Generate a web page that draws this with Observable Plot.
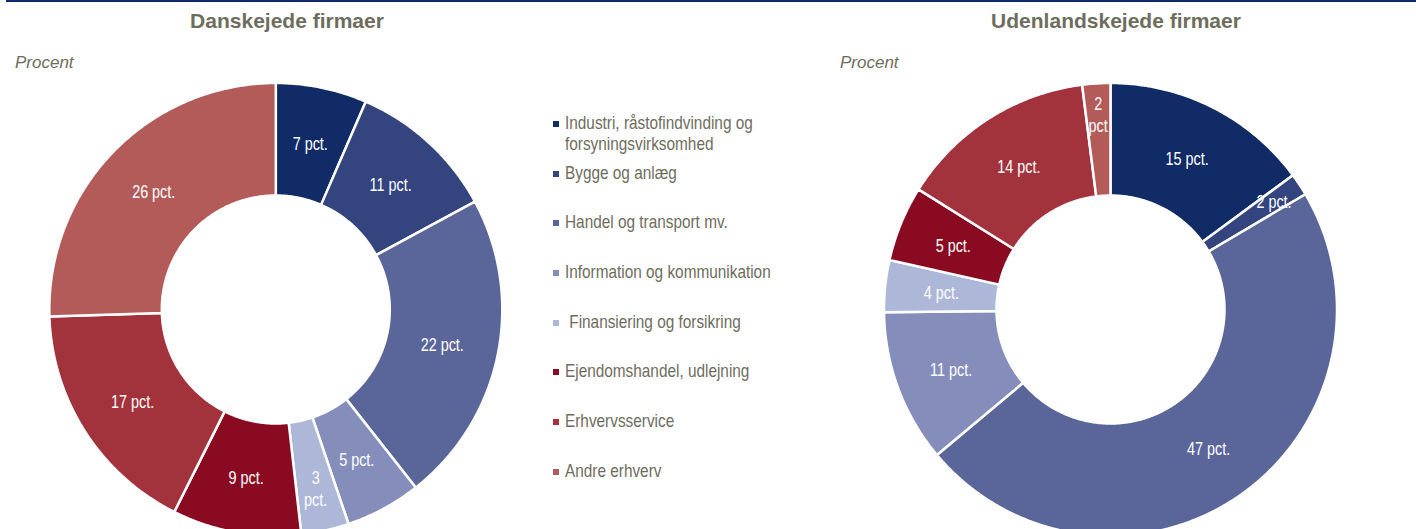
<!DOCTYPE html>
<html>
<head>
<meta charset="utf-8">
<script src="https://cdn.jsdelivr.net/npm/d3@7"></script>
<script src="https://cdn.jsdelivr.net/npm/@observablehq/plot@0.6"></script>
<style>
  html, body { margin: 0; padding: 0; background: #fff; }
  #page { position: relative; width: 1416px; height: 529px; overflow: hidden; font-family: "Liberation Sans", Arial, sans-serif; color: #6e6d5d; }
  .topline { position: absolute; left: 6px; right: 0; top: 0; height: 2px; background: #0e2a6b; }
  .title { position: absolute; top: 9px; font-weight: bold; font-size: 21px; white-space: nowrap; transform: translateX(-50%); }
  .unit { position: absolute; top: 53px; font-style: italic; font-size: 17px; }
  .chart { position: absolute; top: 0; }
  .leg { position: absolute; left: 553px; font-size: 18.5px; line-height: 21px; white-space: pre; }
  .leg .sw { position: absolute; left: 0; top: 9px; width: 6px; height: 6px; }
  .leg .tx { position: absolute; left: 12px; top: 0; transform: scaleX(0.83); transform-origin: 0 0; }
</style>
</head>
<body>
<div id="page">
  <div class="topline"></div>
  <div class="title" style="left:287px">Danskejede firmaer</div>
  <div class="title" style="left:1116px">Udenlandskejede firmaer</div>
  <div class="unit" style="left:15px">Procent</div>
  <div class="unit" style="left:840px">Procent</div>
  <div id="left" class="chart" style="left:0px"></div>
  <div id="right" class="chart" style="left:835px"></div>
  <div id="legend"></div>
</div>
<script>
// ---- data ----
const categories = [
  "Industri, råstofindvinding og\nforsyningsvirksomhed",
  "Bygge og anlæg",
  "Handel og transport mv.",
  "Information og kommunikation",
  " Finansiering og forsikring",
  "Ejendomshandel, udlejning",
  "Erhvervsservice",
  "Andre erhverv"
];
const colors = ["#112b67", "#33447f", "#5a6699", "#858ebb", "#adb7d8", "#8a0b21", "#a2323b", "#b35b59"];
const danishValues = [6.5, 10.6, 22.3, 5.4, 3.4, 9.2, 17.1, 25.5];
const danishLabels = ["7 pct.", "11 pct.", "22 pct.", "5 pct.", "3\npct.", "9 pct.", "17 pct.", "26 pct."];
const foreignValues = [14.9, 1.6, 47.4, 10.9, 3.7, 5.4, 14.1, 2.0];
const foreignLabels = ["15 pct.", "2 pct.", "47 pct.", "11 pct.", "4 pct.", "5 pct.", "14 pct.", "2\npct"];

// ---- geometry helpers ----
const R_OUT = 226.5, R_IN = 114;
function slices(values, labels) {
  const pie = d3.pie().sort(null).value(d => d.v)(values.map((v, i) => ({v, i})));
  const poly = [], lab = [];
  pie.forEach(p => {
    const cat = categories[p.data.i];
    const steps = Math.max(2, Math.ceil((p.endAngle - p.startAngle) / 0.01));
    for (let k = 0; k <= steps; k++) {
      const a = p.startAngle + (p.endAngle - p.startAngle) * k / steps;
      poly.push({cat, x: R_OUT * Math.sin(a), y: R_OUT * Math.cos(a)});
    }
    for (let k = steps; k >= 0; k--) {
      const a = p.startAngle + (p.endAngle - p.startAngle) * k / steps;
      poly.push({cat, x: R_IN * Math.sin(a), y: R_IN * Math.cos(a)});
    }
    const mid = (p.startAngle + p.endAngle) / 2;
    const v = p.data.v;
    const rl = v < 2.5 ? 196 : v < 3.5 ? 183 : 170;
    lab.push({text: labels[p.data.i], x: rl * Math.sin(mid), y: rl * Math.cos(mid)});
  });
  return {poly, lab};
}

function donut(values, labels, xdom, width) {
  const {poly, lab} = slices(values, labels);
  const svg = Plot.plot({
    width, height: 529,
    margin: 0,
    x: {domain: xdom, axis: null},
    y: {domain: [-220, 309], axis: null},
    color: {domain: categories, range: colors},
    style: {background: "transparent", overflow: "visible"},
    marks: [
      Plot.line(poly, {x: "x", y: "y", z: "cat", fill: "cat", stroke: "white", strokeWidth: 2.5, curve: "linear-closed"}),
      Plot.text(lab, {x: "x", y: "y", text: "text", fill: "white", fontSize: 18, lineHeight: 1.2,
        fontFamily: "'Liberation Sans', Arial, sans-serif"})
    ]
  });
  // condensed look (Arial Narrow is not installed)
  d3.select(svg).selectAll('g[aria-label="text"] text').each(function () {
    const t = this.getAttribute("transform") || "";
    this.setAttribute("transform", t + " scale(0.8,1)");
  });
  return svg;
}

document.getElementById("left").append(donut(danishValues, danishLabels, [-275.3, 284.7], 560));
document.getElementById("right").append(donut(foreignValues, foreignLabels, [-275, 306], 581));

// ---- legend ----
const leg = document.getElementById("legend");
categories.forEach((c, i) => {
  const cy = i === 0 ? 122 : 172 + (i - 1) * 49.7;
  const div = document.createElement("div");
  div.className = "leg";
  div.style.top = (cy - 10.5) + "px";
  div.innerHTML = `<div class="sw" style="background:${colors[i]}"></div><div class="tx"></div>`;
  div.querySelector(".tx").textContent = c;
  leg.append(div);
});
</script>
</body>
</html>
